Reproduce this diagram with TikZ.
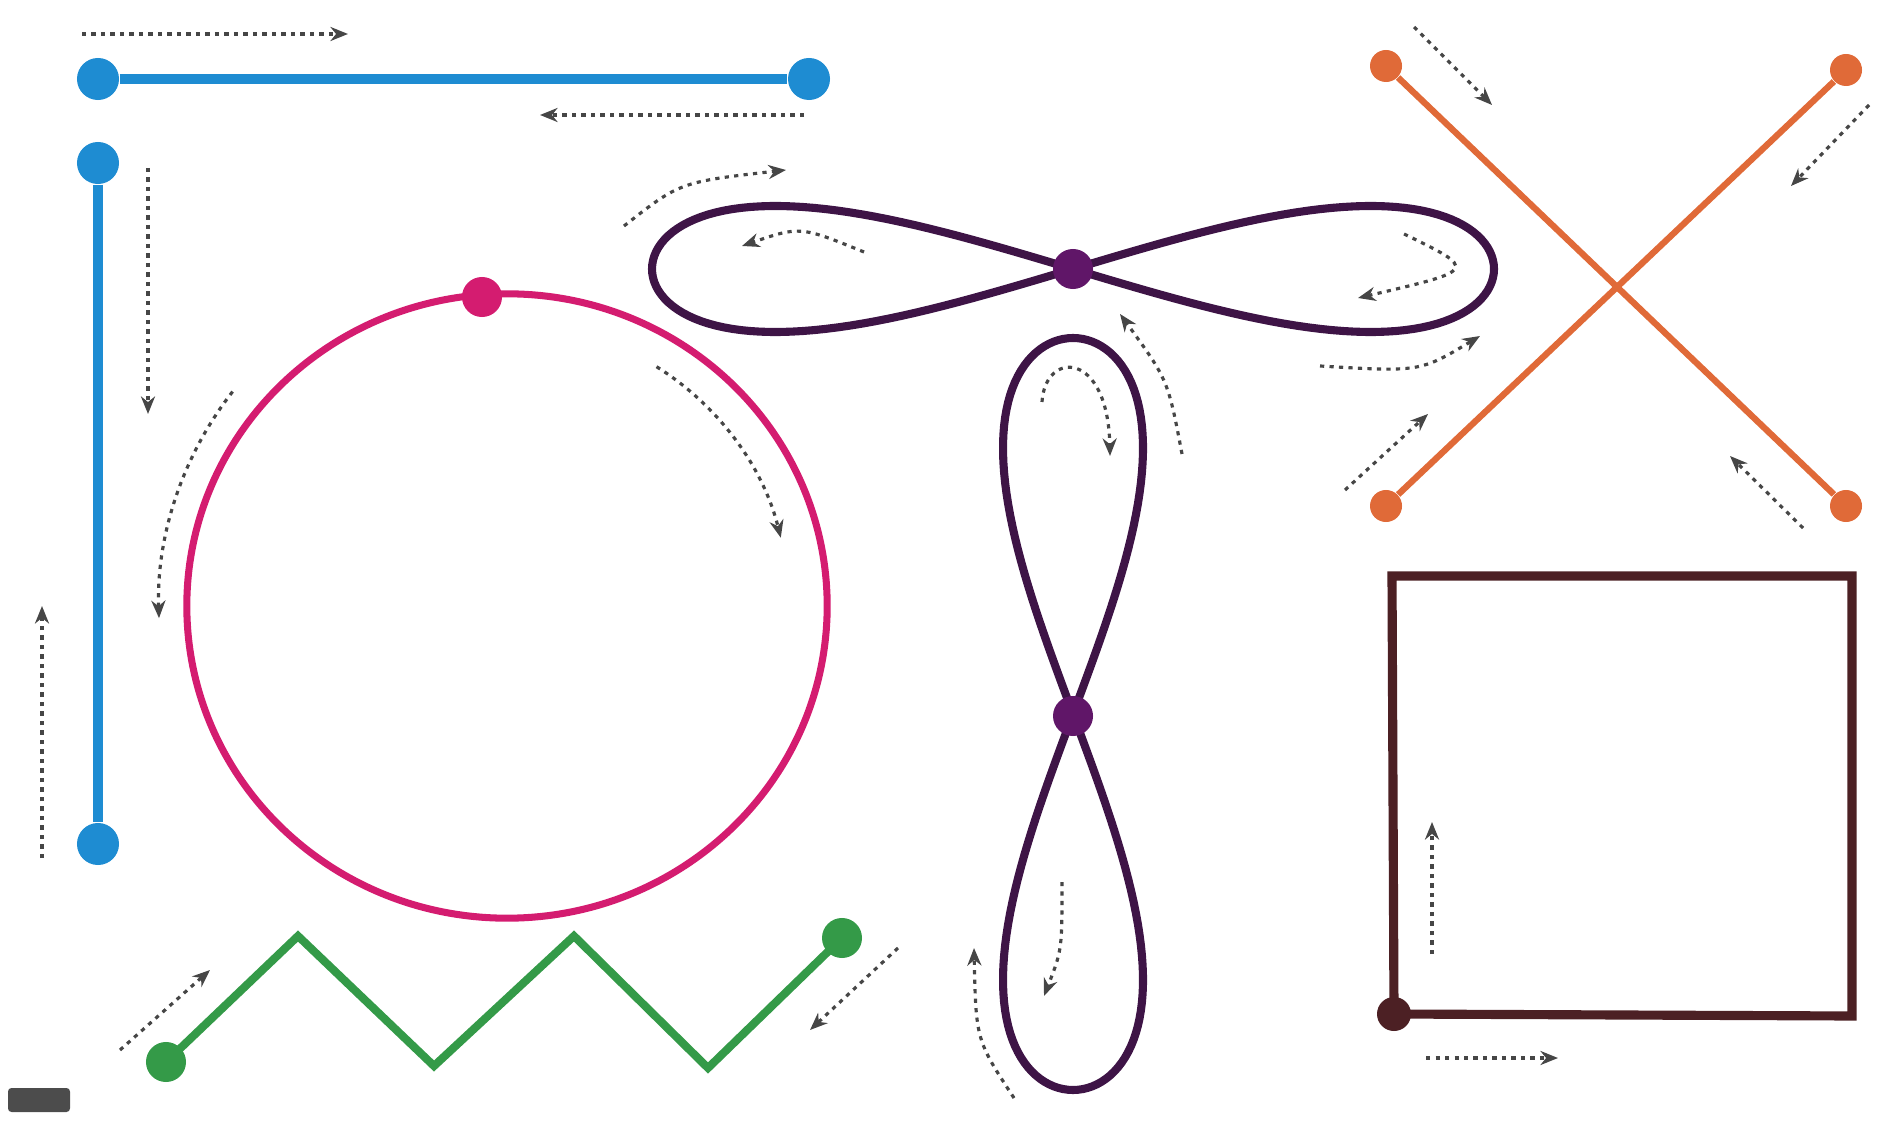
\documentclass[tikz,border=0pt]{standalone}
\usepackage{tikz}
\usetikzlibrary{arrows.meta}
\definecolor{cblue}{RGB}{30,140,210}
\definecolor{cpink}{RGB}{212,28,112}
\definecolor{cpurple}{RGB}{62,20,70}
\definecolor{cpurpledot}{RGB}{96,22,104}
\definecolor{corange}{RGB}{224,106,56}
\definecolor{csquare}{RGB}{76,32,36}
\definecolor{cgreen}{RGB}{52,154,72}

\tikzset{
  dot/.style={circle, fill=#1, inner sep=0pt, minimum size=0.4cm},
  flow/.style={gray!55!black, line width=0.9pt, dash pattern=on 1.2pt off 1.5pt,
    -{Stealth[length=5pt, width=4pt]}},
}

\begin{document}
\begin{tikzpicture}[x=0.01cm, y=-0.01cm]
\useasboundingbox (0,0) rectangle (1882,1125);

% blue segments
\node[dot=cblue, minimum size=0.42cm] (bh1) at (98,79) {};
\node[dot=cblue, minimum size=0.42cm] (bh2) at (809,79) {};
\node[dot=cblue, minimum size=0.42cm] (bv1) at (98,163) {};
\node[dot=cblue, minimum size=0.42cm] (bv2) at (98,844) {};
\draw[cblue, line width=2.8pt] (bh1) -- (bh2);
\draw[cblue, line width=2.8pt] (bv1) -- (bv2);
\draw[flow] (82,34) -- (348,34);
\draw[flow] (804,115) -- (540,115);
\draw[flow] (148,168) -- (148,414);
\draw[flow] (42,858) -- (42,606);

% pink circle
\coordinate (cc) at (507,606);
\draw[cpink, line width=2pt] (cc) ellipse[x radius=3.2cm, y radius=3.12cm];
\node[dot=cpink] (ctop) at (482,297) {};
\draw[flow] ([shift={(58:2.82cm)}]cc) arc[start angle=58, end angle=14, radius=2.82cm];
\draw[flow] ([shift={(142:3.48cm)}]cc) arc[start angle=142, end angle=182, radius=3.48cm];

% figure eights
\draw[cpurple, line width=2.3pt] plot[domain=0:360, samples=181]
  ({1073+421*sin(\x)}, {269+63*sin(2*\x)}) -- cycle;
\draw[cpurple, line width=2.3pt] plot[domain=0:360, samples=181]
  ({1073+70*sin(2*\x)}, {714+376*sin(\x)}) -- cycle;
\node[dot=cpurpledot] (eh) at (1073,269) {};
\node[dot=cpurpledot] (ev) at (1073,716) {};
\draw[flow] (624,226) .. controls (680,182) .. (786,170);
\draw[flow] (864,252) .. controls (800,226) .. (742,246);
\draw[flow] (1404,234) .. controls (1478,270) .. (1358,298);
\draw[flow] (1320,366) .. controls (1420,372) .. (1480,336);
\draw[flow] (1182,454) .. controls (1168,380) .. (1120,314);
\draw[flow] (1042,402) .. controls (1045,350) and (1108,350) .. (1110,456);
\draw[flow] (1062,882) .. controls (1062,950) .. (1044,996);
\draw[flow] (1014,1098) .. controls (976,1040) .. (974,948);

% orange cross
\node[dot=corange, minimum size=0.32cm] (xtl) at (1386,66) {};
\node[dot=corange, minimum size=0.32cm] (xtr) at (1846,70) {};
\node[dot=corange, minimum size=0.32cm] (xbl) at (1386,506) {};
\node[dot=corange, minimum size=0.32cm] (xbr) at (1846,506) {};
\draw[corange, line width=1.8pt] (xtl) -- (xbr);
\draw[corange, line width=1.8pt] (xtr) -- (xbl);
\draw[flow] (1414,27) -- (1492,105);
\draw[flow] (1869,105) -- (1791,186);
\draw[flow] (1345,490) -- (1428,414);
\draw[flow] (1803,528) -- (1730,456);

% square
\coordinate (sq1) at (1392,576);
\coordinate (sq2) at (1852,576);
\coordinate (sq3) at (1852,1016);
\node[dot=csquare, minimum size=0.34cm] (sq0) at (1394,1014) {};
\draw[csquare, line width=2.6pt, line join=miter] (sq0.center) -- (sq1) -- (sq2) -- (sq3) -- cycle;
\draw[flow] (1432,954) -- (1432,822);
\draw[flow] (1426,1058) -- (1558,1058);

% green zigzag
\node[dot=cgreen] (z0) at (166,1062) {};
\coordinate (z1) at (298,936);
\coordinate (z2) at (434,1066);
\coordinate (z3) at (574,936);
\coordinate (z4) at (708,1068);
\node[dot=cgreen] (z5) at (842,938) {};
\draw[cgreen, line width=2.3pt] (z0.center) -- (z1) -- (z2) -- (z3) -- (z4) -- (z5.center);
\draw[flow] (120,1050) -- (210,970);
\draw[flow] (898,948) -- (810,1030);

% logo
\fill[gray!60!black, rounded corners=1pt] (8,1088) rectangle (70,1112);
\end{tikzpicture}
\end{document}
